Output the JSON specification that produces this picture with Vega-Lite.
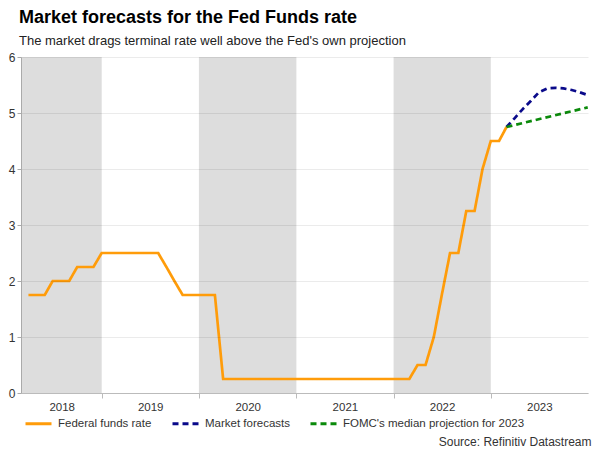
{
  "$schema": "https://vega.github.io/schema/vega-lite/v6.json",
  "width": 567,
  "height": 336,
  "autosize": {"type": "none"},
  "padding": {"left": 21, "top": 57, "right": 12, "bottom": 57},
  "background": "white",
  "config": {
    "font": "Liberation Sans",
    "view": {"stroke": null}
  },
  "title": {
    "text": "Market forecasts for the Fed Funds rate",
    "subtitle": "The market drags terminal rate well above the Fed's own projection",
    "anchor": "start",
    "frame": "group",
    "dx": -2,
    "offset": 3,
    "font": "Liberation Sans",
    "fontSize": 18,
    "fontWeight": "bold",
    "color": "#000000",
    "subtitleFont": "Liberation Sans",
    "subtitleFontSize": 13,
    "subtitleColor": "#222222",
    "subtitlePadding": 8
  },
  "datasets": {
    "bands": [
      {"date": "2018-01-01", "date_end": "2019-01-01"},
      {"date": "2020-01-01", "date_end": "2021-01-01"},
      {"date": "2022-01-01", "date_end": "2023-01-01"}
    ],
    "rates": [
      {"date": "2018-04-01", "value": 1.75, "series": "Federal funds rate"},
      {"date": "2018-05-01", "value": 1.75, "series": "Federal funds rate"},
      {"date": "2018-06-01", "value": 1.75, "series": "Federal funds rate"},
      {"date": "2018-07-01", "value": 2.0, "series": "Federal funds rate"},
      {"date": "2018-08-01", "value": 2.0, "series": "Federal funds rate"},
      {"date": "2018-09-01", "value": 2.0, "series": "Federal funds rate"},
      {"date": "2018-10-01", "value": 2.25, "series": "Federal funds rate"},
      {"date": "2018-11-01", "value": 2.25, "series": "Federal funds rate"},
      {"date": "2018-12-01", "value": 2.25, "series": "Federal funds rate"},
      {"date": "2019-01-01", "value": 2.5, "series": "Federal funds rate"},
      {"date": "2019-02-01", "value": 2.5, "series": "Federal funds rate"},
      {"date": "2019-03-01", "value": 2.5, "series": "Federal funds rate"},
      {"date": "2019-04-01", "value": 2.5, "series": "Federal funds rate"},
      {"date": "2019-05-01", "value": 2.5, "series": "Federal funds rate"},
      {"date": "2019-06-01", "value": 2.5, "series": "Federal funds rate"},
      {"date": "2019-07-01", "value": 2.5, "series": "Federal funds rate"},
      {"date": "2019-08-01", "value": 2.5, "series": "Federal funds rate"},
      {"date": "2019-09-01", "value": 2.25, "series": "Federal funds rate"},
      {"date": "2019-10-01", "value": 2.0, "series": "Federal funds rate"},
      {"date": "2019-11-01", "value": 1.75, "series": "Federal funds rate"},
      {"date": "2019-12-01", "value": 1.75, "series": "Federal funds rate"},
      {"date": "2020-01-01", "value": 1.75, "series": "Federal funds rate"},
      {"date": "2020-02-01", "value": 1.75, "series": "Federal funds rate"},
      {"date": "2020-03-01", "value": 1.75, "series": "Federal funds rate"},
      {"date": "2020-04-01", "value": 0.25, "series": "Federal funds rate"},
      {"date": "2020-05-01", "value": 0.25, "series": "Federal funds rate"},
      {"date": "2020-06-01", "value": 0.25, "series": "Federal funds rate"},
      {"date": "2020-07-01", "value": 0.25, "series": "Federal funds rate"},
      {"date": "2020-08-01", "value": 0.25, "series": "Federal funds rate"},
      {"date": "2020-09-01", "value": 0.25, "series": "Federal funds rate"},
      {"date": "2020-10-01", "value": 0.25, "series": "Federal funds rate"},
      {"date": "2020-11-01", "value": 0.25, "series": "Federal funds rate"},
      {"date": "2020-12-01", "value": 0.25, "series": "Federal funds rate"},
      {"date": "2021-01-01", "value": 0.25, "series": "Federal funds rate"},
      {"date": "2021-02-01", "value": 0.25, "series": "Federal funds rate"},
      {"date": "2021-03-01", "value": 0.25, "series": "Federal funds rate"},
      {"date": "2021-04-01", "value": 0.25, "series": "Federal funds rate"},
      {"date": "2021-05-01", "value": 0.25, "series": "Federal funds rate"},
      {"date": "2021-06-01", "value": 0.25, "series": "Federal funds rate"},
      {"date": "2021-07-01", "value": 0.25, "series": "Federal funds rate"},
      {"date": "2021-08-01", "value": 0.25, "series": "Federal funds rate"},
      {"date": "2021-09-01", "value": 0.25, "series": "Federal funds rate"},
      {"date": "2021-10-01", "value": 0.25, "series": "Federal funds rate"},
      {"date": "2021-11-01", "value": 0.25, "series": "Federal funds rate"},
      {"date": "2021-12-01", "value": 0.25, "series": "Federal funds rate"},
      {"date": "2022-01-01", "value": 0.25, "series": "Federal funds rate"},
      {"date": "2022-02-01", "value": 0.25, "series": "Federal funds rate"},
      {"date": "2022-03-01", "value": 0.25, "series": "Federal funds rate"},
      {"date": "2022-04-01", "value": 0.5, "series": "Federal funds rate"},
      {"date": "2022-05-01", "value": 0.5, "series": "Federal funds rate"},
      {"date": "2022-06-01", "value": 1.0, "series": "Federal funds rate"},
      {"date": "2022-07-01", "value": 1.75, "series": "Federal funds rate"},
      {"date": "2022-08-01", "value": 2.5, "series": "Federal funds rate"},
      {"date": "2022-09-01", "value": 2.5, "series": "Federal funds rate"},
      {"date": "2022-10-01", "value": 3.25, "series": "Federal funds rate"},
      {"date": "2022-11-01", "value": 3.25, "series": "Federal funds rate"},
      {"date": "2022-12-01", "value": 4.0, "series": "Federal funds rate"},
      {"date": "2023-01-01", "value": 4.5, "series": "Federal funds rate"},
      {"date": "2023-02-01", "value": 4.5, "series": "Federal funds rate"},
      {"date": "2023-03-01", "value": 4.75, "series": "Federal funds rate"},
      {"date": "2023-03-01", "value": 4.75, "series": "Market forecasts"},
      {"date": "2023-04-01", "value": 4.91, "series": "Market forecasts"},
      {"date": "2023-05-01", "value": 5.07, "series": "Market forecasts"},
      {"date": "2023-06-01", "value": 5.22, "series": "Market forecasts"},
      {"date": "2023-07-01", "value": 5.37, "series": "Market forecasts"},
      {"date": "2023-08-01", "value": 5.44, "series": "Market forecasts"},
      {"date": "2023-09-01", "value": 5.45, "series": "Market forecasts"},
      {"date": "2023-10-01", "value": 5.44, "series": "Market forecasts"},
      {"date": "2023-11-01", "value": 5.41, "series": "Market forecasts"},
      {"date": "2023-12-01", "value": 5.37, "series": "Market forecasts"},
      {"date": "2023-12-31", "value": 5.32, "series": "Market forecasts"},
      {"date": "2023-03-01", "value": 4.75, "series": "FOMC's median projection for 2023"},
      {"date": "2023-12-31", "value": 5.1, "series": "FOMC's median projection for 2023"}
    ]
  },
  "encoding": {
    "x": {
      "field": "date",
      "type": "temporal",
      "scale": {
        "domain": [
          {"year": 2018, "month": 3, "date": 4, "utc": true},
          {"year": 2024, "month": 1, "date": 1, "utc": true}
        ]
      },
      "axis": {
        "title": "Source: Refinitiv Datastream",
        "titleAnchor": "end",
        "titleAlign": "right",
        "titleX": 570,
        "titleY": 48,
        "titleBaseline": "middle",
        "titleFont": "Liberation Sans",
        "titleFontSize": 12,
        "titleFontWeight": "normal",
        "titleColor": "#333333",
        "values": [
          {"year": 2019, "month": 1, "date": 1, "utc": true},
          {"year": 2020, "month": 1, "date": 1, "utc": true},
          {"year": 2021, "month": 1, "date": 1, "utc": true},
          {"year": 2022, "month": 1, "date": 1, "utc": true},
          {"year": 2023, "month": 1, "date": 1, "utc": true},
          {"year": 2024, "month": 1, "date": 1, "utc": true}
        ],
        "labelExpr": "'' + (utcyear(datum.value) - 1)",
        "labelOffset": {"condition": {"test": "utcyear(datum.value) == 2019", "value": -40}, "value": -48.7},
        "tickOpacity": {"condition": {"test": "utcyear(datum.value) == 2024", "value": 0}, "value": 1},
        "labelFont": "Liberation Sans",
        "labelFontSize": 11.5,
        "labelColor": "#333333",
        "labelPadding": 3,
        "labelFlush": false,
        "labelOverlap": false,
        "labelBound": false,
        "tickSize": 5,
        "tickColor": "#bbbbbb",
        "domainColor": "#bbbbbb",
        "grid": false,
        "zindex": 1
      }
    }
  },
  "layer": [
    {
      "data": {"name": "bands"},
      "mark": {"type": "rect", "color": "#dddddd", "clip": true},
      "encoding": {
        "x2": {"field": "date_end"}
      }
    },
    {
      "data": {"name": "rates"},
      "mark": {"type": "line", "strokeWidth": 2.7, "clip": true},
      "encoding": {
        "y": {
          "field": "value",
          "type": "quantitative",
          "scale": {"domain": [0, 6], "nice": false},
          "axis": {
            "title": null,
            "values": [0, 1, 2, 3, 4, 5, 6],
            "grid": true,
            "gridColor": "#000000",
            "gridOpacity": 0.08,
            "domainColor": "#aaaaaa",
            "tickColor": "#aaaaaa",
            "tickSize": 4,
            "labelFont": "Liberation Sans",
            "labelFontSize": 12,
            "labelColor": "#333333",
            "labelPadding": 2,
            "zindex": 1
          }
        },
        "color": {
          "field": "series",
          "type": "nominal",
          "scale": {
            "domain": ["Federal funds rate", "Market forecasts", "FOMC's median projection for 2023"],
            "range": ["#ff9c0a", "#0a0a8a", "#0b8a0b"]
          },
          "legend": {
            "title": null,
            "orient": "none",
            "legendX": 3,
            "legendY": 352,
            "direction": "horizontal",
            "symbolType": "stroke",
            "symbolSize": 676,
            "symbolStrokeWidth": 3,
            "labelFont": "Liberation Sans",
            "labelFontSize": 11.5,
            "labelColor": "#333333",
            "labelOffset": 5,
            "columnPadding": 14,
            "labelLimit": 400
          }
        },
        "strokeDash": {
          "field": "series",
          "type": "nominal",
          "scale": {
            "domain": ["Federal funds rate", "Market forecasts", "FOMC's median projection for 2023"],
            "range": [[1, 0], [6, 4], [6, 4]]
          },
          "legend": {
            "title": null,
            "orient": "none",
            "legendX": 3,
            "legendY": 352,
            "direction": "horizontal",
            "symbolType": "stroke",
            "symbolSize": 676,
            "symbolStrokeWidth": 3,
            "labelFont": "Liberation Sans",
            "labelFontSize": 11.5,
            "labelColor": "#333333",
            "labelOffset": 5,
            "columnPadding": 14,
            "labelLimit": 400
          }
        }
      }
    }
  ]
}
